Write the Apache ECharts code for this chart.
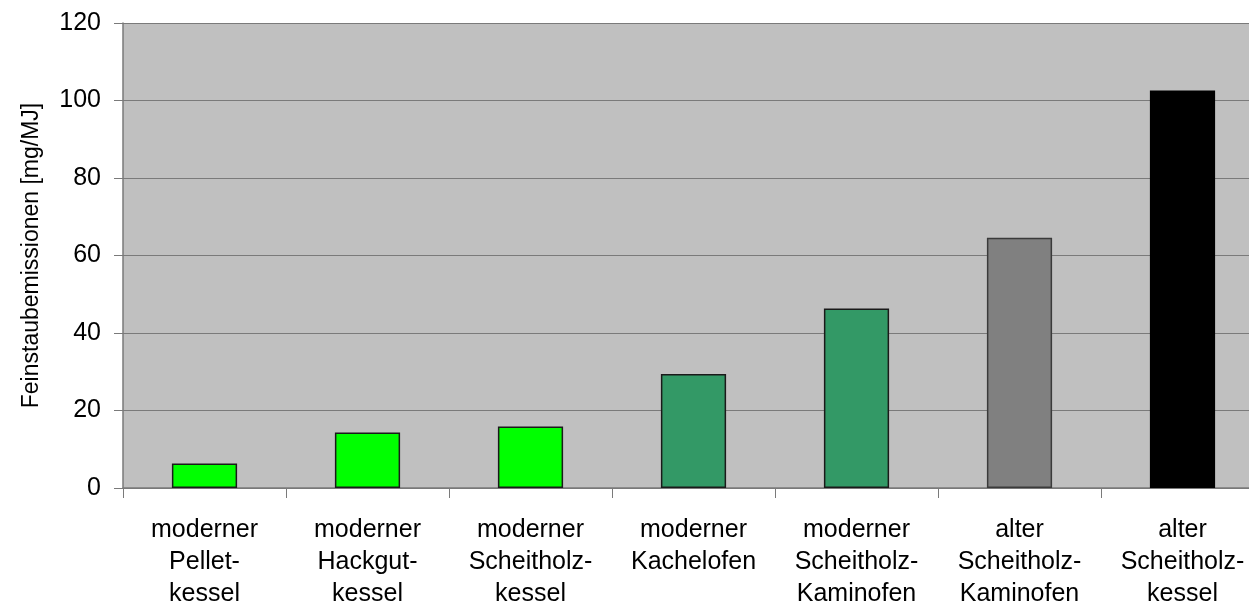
<!DOCTYPE html>
<html>
<head>
<meta charset="utf-8">
<script src="https://cdn.jsdelivr.net/npm/echarts@6/dist/echarts.min.js"></script>
<style>
  html, body { margin: 0; padding: 0; background: #ffffff; overflow: hidden; }
  #chart { width: 1264px; height: 607px; }
</style>
</head>
<body>
<div id="chart"></div>
<script>
// Heizungsarten und ihre Feinstaubemissionen in mg/MJ
const categories = [
  'moderner\nPellet-\nkessel',
  'moderner\nHackgut-\nkessel',
  'moderner\nScheitholz-\nkessel',
  'moderner\nKachelofen',
  'moderner\nScheitholz-\nKaminofen',
  'alter\nScheitholz-\nKaminofen',
  'alter\nScheitholz-\nkessel'
];
const emissions = [6.3, 14.3, 15.9, 29.4, 46.3, 64.6, 102.6];
const yTicks = { min: 0, max: 120, interval: 20 };
const yAxisTitle = 'Feinstaubemissionen [mg/MJ]';

// Füllfarben je Balken
const barColors = ['#00ff00', '#00ff00', '#00ff00', '#339966', '#339966', '#808080', '#000000'];
const barBorders = ['#1a1a1a', '#1a1a1a', '#1a1a1a', '#1a1a1a', '#1a1a1a', '#3a3a3a', '#000000'];

const font = 'Liberation Sans, Arial, sans-serif';
const chart = echarts.init(document.getElementById('chart'), null, { renderer: 'canvas' });

chart.setOption({
  backgroundColor: '#ffffff',
  animation: false,
  grid: {
    left: 123,
    top: 23,
    right: 0,
    height: 465,
    containLabel: false,
    outerBoundsMode: 'none',
    backgroundColor: '#c0c0c0',
    show: true,
    borderWidth: 0
  },
  xAxis: {
    type: 'category',
    data: categories,
    boundaryGap: true,
    axisLine: { show: true, lineStyle: { color: '#7a7a7a', width: 1.5 } },
    axisTick: { show: true, length: 10, lineStyle: { color: '#7a7a7a', width: 1 } },
    axisLabel: {
      interval: 0,
      margin: 26,
      color: '#000000',
      fontFamily: font,
      fontSize: 25,
      lineHeight: 32
    }
  },
  yAxis: {
    type: 'value',
    min: yTicks.min,
    max: yTicks.max,
    interval: yTicks.interval,
    name: yAxisTitle,
    nameLocation: 'middle',
    nameGap: 80,
    nameTextStyle: { color: '#000000', fontFamily: font, fontSize: 23 },
    axisLine: { show: true, lineStyle: { color: '#7a7a7a', width: 1.5 } },
    axisTick: { show: true, length: 9, lineStyle: { color: '#7a7a7a', width: 1 } },
    axisLabel: {
      margin: 22,
      color: '#000000',
      fontFamily: font,
      fontSize: 25
    },
    splitLine: { show: true, lineStyle: { color: '#7a7a7a', width: 1.2 } }
  },
  series: [{
    type: 'bar',
    barWidth: '40%',
    data: emissions.map((v, i) => ({
      value: v,
      itemStyle: { color: barColors[i], borderColor: barBorders[i], borderWidth: 1.5 }
    }))
  }]
});
</script>
</body>
</html>
